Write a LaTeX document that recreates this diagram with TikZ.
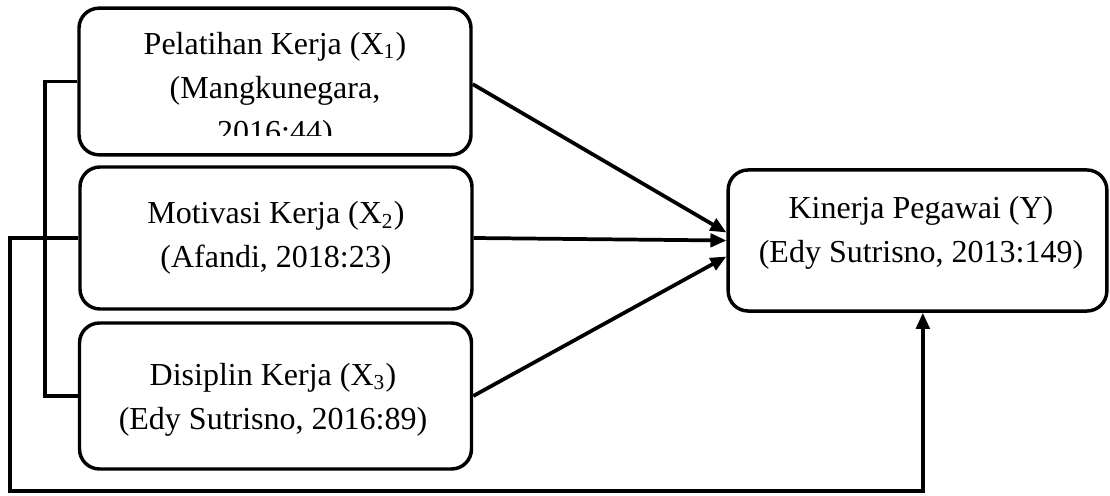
\documentclass[tikz,border=0pt]{standalone}
\usepackage{fontspec}
\setmainfont{Liberation Serif}
\usepackage{tikz}
\usetikzlibrary{arrows.meta}
\tikzstyle{box}=[draw, line width=1.3pt, rounded corners=7.5pt, minimum width=147pt, inner sep=0pt]
\tikzstyle{txt}=[align=center, inner sep=0pt, font=\fontsize{12}{16.5}\selectfont]
\tikzstyle{link}=[line width=1.4pt]
\tikzstyle{arr}=[link, -{Triangle[length=6pt,width=5pt]}]

\begin{document}
\begin{tikzpicture}[x=0.375pt, y=-0.375pt]
        \useasboundingbox (0, 0) rectangle (1110, 495);
        \node[box, minimum height=55pt] (x1) at (275, 81.5) {};
        \node[box, minimum height=53.25pt] (x2) at (276, 238) {};
        \node[box, minimum height=54.75pt] (x3) at (275.5, 396) {};
        \node[box, minimum width=142pt, minimum height=52.9pt] (y) at (917.5, 240.5) {};
        \begin{scope}
            \clip (79, 8) rectangle (471, 136);
            \node[txt] (x1t) at (275, 90.5) {Pelatihan Kerja (X\textsubscript{1})\\(Mangkunegara,\\2016:44)};
        \end{scope}
        \node[txt] (x2t) at (276, 238) {Motivasi Kerja (X\textsubscript{2})\\(Afandi, 2018:23)};
        \node[txt] (x3t) at (273, 399.5) {Disiplin Kerja (X\textsubscript{3})\\(Edy Sutrisno, 2016:89)};
        \node[txt] (yt) at (921, 232.5) {Kinerja Pegawai (Y)\\(Edy Sutrisno, 2013:149)};
        \coordinate (brk) at (45, 0);
        \coordinate (lp) at (10, 491);
        \draw[arr] ([yshift=-1pt]x1.east) -- ([yshift=3pt]y.west);
        \draw[arr] (x2.east) -- (y.west);
        \draw[arr] (x3.east) -- ([yshift=-6pt]y.west);
        \draw[link] (x1.west) -- (x1.west -| brk) -- (x3.west -| brk) -- (x3.west);
        \draw[arr] (x2.west) -| (lp) -| ([xshift=2pt]y.south);
    \end{tikzpicture}
\end{document}
